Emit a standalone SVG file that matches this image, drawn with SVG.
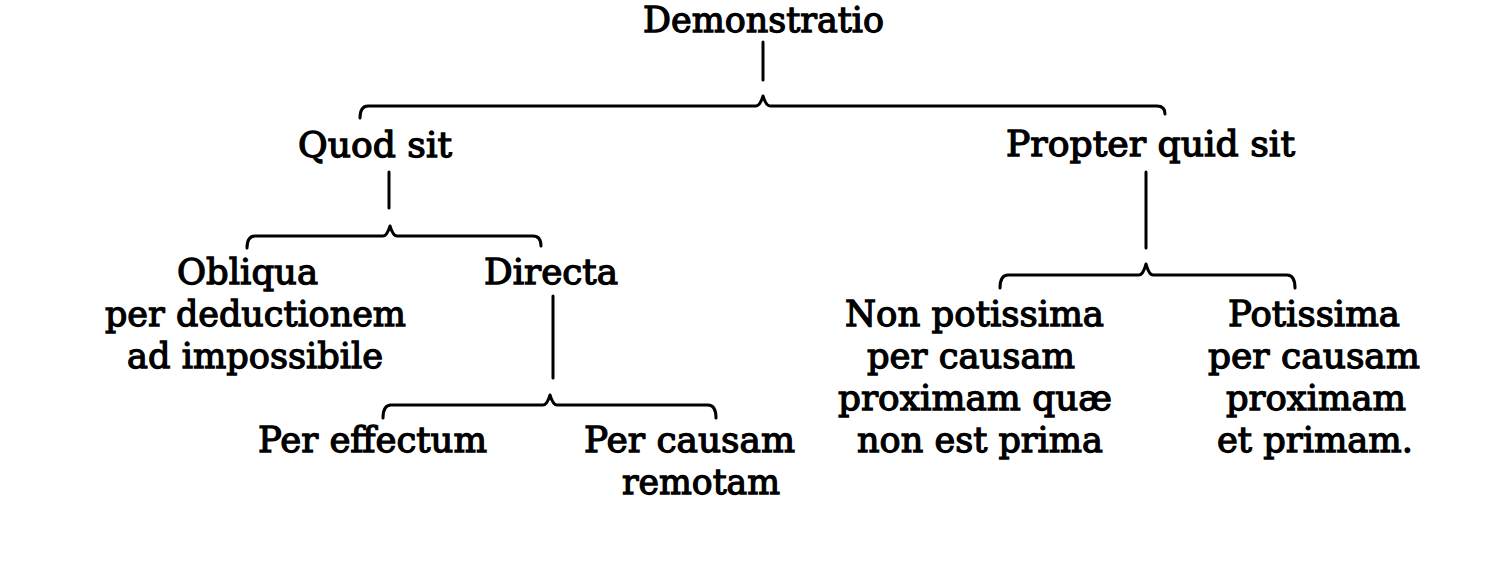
<svg xmlns="http://www.w3.org/2000/svg" width="1500" height="562" viewBox="0 0 1500 562">
<style>
text{font-family:"DejaVu Serif","Liberation Serif",serif;font-size:36px;fill:#000;stroke:#000;stroke-width:1.3;text-anchor:middle}
.c{fill:none;stroke:#000;stroke-width:3;stroke-linecap:round;stroke-linejoin:round}
</style>
<rect width="1500" height="562" fill="#fff"/>
<g id="connectors">
<path class="c" d="M763,42 V80"/>
<path class="c" d="M360,118 Q360,106 368,106 L756,106 Q760,106 763,96 Q766,106 770,106 L1157,106 Q1165,106 1165,114"/>
<path class="c" d="M389,172 V208"/>
<path class="c" d="M247,248 Q247,236 255,236 L383,236 Q387,236 390,226 Q393,236 397,236 L533,236 Q541,236 541,246"/>
<path class="c" d="M1146,172 V248"/>
<path class="c" d="M1000,288 Q1000,275 1008,275 L1139,275 Q1143,275 1146,264 Q1149,275 1153,275 L1287,275 Q1295,275 1295,288"/>
<path class="c" d="M553,296 V378"/>
<path class="c" d="M383,418 Q383,405 391,405 L543,405 Q547,405 550,395 Q553,405 557,405 L708,405 Q716,405 716,418"/>
</g>
<g id="n-demonstratio"><text x="763.5" y="32" font-size="33" textLength="241" lengthAdjust="spacingAndGlyphs">Demonstratio</text></g>
<g id="n-quod"><text x="375" y="157" textLength="154" lengthAdjust="spacingAndGlyphs">Quod sit</text></g>
<g id="n-propter"><text x="1150.5" y="156" textLength="289" lengthAdjust="spacingAndGlyphs">Propter quid sit</text></g>
<g id="n-obliqua">
<text x="247.5" y="284" textLength="141" lengthAdjust="spacingAndGlyphs">Obliqua</text>
<text x="255.5" y="326" textLength="301" lengthAdjust="spacingAndGlyphs">per deductionem</text>
<text x="255" y="368" textLength="256" lengthAdjust="spacingAndGlyphs">ad impossibile</text>
</g>
<g id="n-directa"><text x="551" y="284" textLength="134" lengthAdjust="spacingAndGlyphs">Directa</text></g>
<g id="n-effectum"><text x="372.5" y="452" textLength="229" lengthAdjust="spacingAndGlyphs">Per effectum</text></g>
<g id="n-remotam">
<text x="689.5" y="452" textLength="211" lengthAdjust="spacingAndGlyphs">Per causam</text>
<text x="701" y="494" textLength="158" lengthAdjust="spacingAndGlyphs">remotam</text>
</g>
<g id="n-nonpotissima">
<text x="974.5" y="326" textLength="259" lengthAdjust="spacingAndGlyphs">Non potissima</text>
<text x="971" y="368" textLength="208" lengthAdjust="spacingAndGlyphs">per causam</text>
<text x="975" y="410" textLength="274" lengthAdjust="spacingAndGlyphs">proximam quæ</text>
<text x="980" y="452" textLength="246" lengthAdjust="spacingAndGlyphs">non est prima</text>
</g>
<g id="n-potissima">
<text x="1314" y="326" textLength="172" lengthAdjust="spacingAndGlyphs">Potissima</text>
<text x="1314" y="368" textLength="212" lengthAdjust="spacingAndGlyphs">per causam</text>
<text x="1316" y="410" textLength="180" lengthAdjust="spacingAndGlyphs">proximam</text>
<text x="1315" y="452" textLength="196" lengthAdjust="spacingAndGlyphs">et primam.</text>
</g>
</svg>
